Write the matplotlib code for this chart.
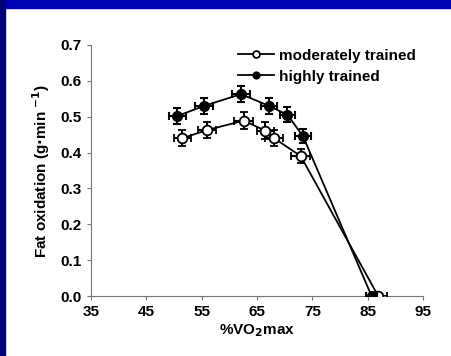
import matplotlib.pyplot as plt
from matplotlib.patches import Rectangle

plt.rcParams['font.family'] = ['Liberation Sans', 'DejaVu Sans']
plt.rcParams['font.weight'] = 'bold'

# moderately trained (open circles)
mod_x = [51.5, 56.0, 62.6, 66.5, 68.1, 72.9, 86.9]
mod_y = [0.44, 0.463, 0.489, 0.461, 0.44, 0.39, 0.0]
mod_xerr = [1.5, 1.6, 1.7, 1.5, 1.6, 1.7, 1.5]
mod_yerr = [0.022, 0.023, 0.024, 0.023, 0.022, 0.02, 0.0]

# highly trained (filled circles)
high_x = [50.6, 55.4, 62.1, 67.2, 70.5, 73.3, 85.7]
high_y = [0.502, 0.53, 0.563, 0.53, 0.505, 0.446, 0.0]
high_xerr = [1.5, 1.6, 1.6, 1.5, 1.4, 1.5, 1.0]
high_yerr = [0.022, 0.023, 0.022, 0.022, 0.021, 0.02, 0.0]

xticks = [35, 45, 55, 65, 75, 85, 95]
yticks = [0.0, 0.1, 0.2, 0.3, 0.4, 0.5, 0.6, 0.7]

fig = plt.figure(figsize=(4.51, 3.56), dpi=100)
ax = fig.add_axes([0.2018, 0.1685, 0.7362, 0.7051])

ax.errorbar(mod_x, mod_y, xerr=mod_xerr, yerr=mod_yerr, color='black', lw=1.3,
            elinewidth=1.5, capsize=3, capthick=1.5, marker='o', ms=7,
            mfc='white', mec='black', mew=1.3, label='moderately trained', zorder=3)
ax.errorbar(high_x, high_y, xerr=high_xerr, yerr=high_yerr, color='black', lw=1.3,
            elinewidth=1.5, capsize=3, capthick=1.5, marker='o', ms=7,
            mfc='black', mec='black', label='highly trained', zorder=4)

ax.set_xlim(35, 95)
ax.set_ylim(0, 0.7)
ax.set_xticks(xticks)
ax.set_yticks(yticks)
ax.set_yticklabels([f'{v:.1f}' for v in yticks])
ax.tick_params(labelsize=11, length=3, color='#777777', width=0.8)
for s in ['top', 'right']:
    ax.spines[s].set_visible(False)
for s in ['left', 'bottom']:
    ax.spines[s].set_color('#777777')
    ax.spines[s].set_linewidth(0.8)

ax.set_xlabel('%VO$_\\mathbf{2}$max', fontsize=11, fontweight='bold', labelpad=2)
ax.set_ylabel('Fat oxidation (g$\\cdot$min $^{\\mathbf{-1}}$)', fontsize=11, fontweight='bold', labelpad=6)

h, l = ax.get_legend_handles_labels()
h = [x[0] for x in h]
ax.legend(h, l, loc='upper right', bbox_to_anchor=(1.02, 1.04), frameon=False,
          fontsize=11, handlelength=2.4, handletextpad=0.3, labelspacing=0.45,
          markerscale=0.7)

# blue slide frame
fig.patches.append(Rectangle((0, 1 - 8 / 356), 1, 8 / 356, transform=fig.transFigure,
                             color='#0000b4', zorder=5))
fig.patches.append(Rectangle((0, 0), 5 / 451, 1, transform=fig.transFigure,
                             color='#00007a', zorder=5))

fig.savefig('out.png', dpi=100)
